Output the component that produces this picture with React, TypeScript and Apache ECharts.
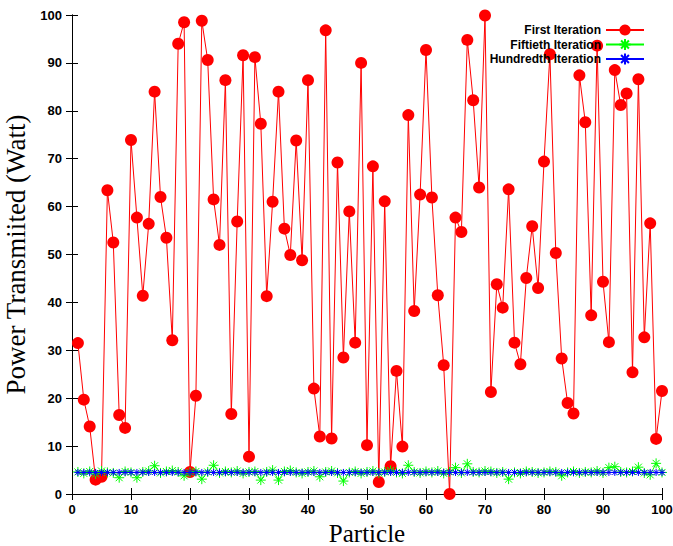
import React, { useEffect, useRef } from "react";
import * as echarts from "echarts";

const PARTICLES = [
  1, 2, 3, 4, 5, 6, 7, 8, 9, 10, 11, 12, 13, 14, 15, 16, 17, 18, 19, 20,
  21, 22, 23, 24, 25, 26, 27, 28, 29, 30, 31, 32, 33, 34, 35, 36, 37, 38, 39, 40,
  41, 42, 43, 44, 45, 46, 47, 48, 49, 50, 51, 52, 53, 54, 55, 56, 57, 58, 59, 60,
  61, 62, 63, 64, 65, 66, 67, 68, 69, 70, 71, 72, 73, 74, 75, 76, 77, 78, 79, 80,
  81, 82, 83, 84, 85, 86, 87, 88, 89, 90, 91, 92, 93, 94, 95, 96, 97, 98, 99, 100,
];

const FIRST = [
  31.5, 19.7, 14.1, 3.0, 3.6, 63.4, 52.5, 16.5, 13.8, 73.9,
  57.7, 41.4, 56.4, 84.0, 62.0, 53.5, 32.1, 94.0, 98.5, 4.6,
  20.5, 98.8, 90.6, 61.5, 52.0, 86.4, 16.7, 56.9, 91.6, 7.8,
  91.2, 77.3, 41.3, 61.0, 84.0, 55.4, 49.9, 73.8, 48.8, 86.4,
  22.0, 12.0, 96.8, 11.6, 69.2, 28.5, 59.0, 31.6, 90.0, 10.2,
  68.4, 2.5, 61.1, 5.8, 25.7, 9.9, 79.1, 38.2, 62.5, 92.7,
  61.9, 41.5, 26.9, 0.0, 57.7, 54.7, 94.8, 82.2, 64.0, 99.9,
  21.3, 43.8, 38.9, 63.6, 31.6, 27.1, 45.1, 55.9, 43.0, 69.4,
  91.8, 50.3, 28.3, 19.0, 16.8, 87.4, 77.6, 37.3, 93.6, 44.3,
  31.7, 88.5, 81.2, 83.6, 25.4, 86.6, 32.7, 56.5, 11.5, 21.5,
];

const FIFTIETH = [
  4.6, 4.3, 4.7, 4.2, 4.8, 4.5, 4.4, 3.4, 4.7, 4.5,
  3.4, 4.6, 4.8, 5.9, 4.4, 4.7, 4.9, 4.6, 3.8, 4.5,
  4.7, 3.1, 4.6, 6.0, 4.4, 4.7, 4.5, 4.8, 4.3, 4.6,
  4.7, 2.9, 4.6, 5.0, 2.9, 4.7, 4.9, 4.5, 4.3, 4.6,
  4.8, 3.6, 4.6, 4.8, 4.4, 2.7, 4.5, 4.7, 4.3, 4.6,
  4.8, 4.4, 4.6, 4.9, 4.5, 4.3, 6.0, 4.6, 4.4, 4.7,
  4.5, 4.8, 4.3, 4.6, 5.5, 4.4, 6.3, 4.6, 4.5, 4.8,
  4.7, 4.4, 4.6, 3.1, 4.5, 4.3, 4.7, 4.6, 4.4, 4.5,
  4.7, 4.6, 3.8, 4.5, 4.7, 4.4, 4.6, 4.5, 4.8, 4.4,
  5.5, 5.7, 4.6, 4.5, 4.7, 5.6, 4.4, 4.0, 6.4, 4.5,
];

const HUNDREDTH = [
  4.5, 4.5, 4.5, 4.5, 4.5, 4.5, 4.5, 4.5, 4.5, 4.5,
  4.5, 4.5, 4.5, 4.5, 4.5, 4.5, 4.5, 4.5, 4.5, 4.5,
  4.5, 4.5, 4.5, 4.5, 4.5, 4.5, 4.5, 4.5, 4.5, 4.5,
  4.5, 4.5, 4.5, 4.5, 4.5, 4.5, 4.5, 4.5, 4.5, 4.5,
  4.5, 4.5, 4.5, 4.5, 4.5, 4.5, 4.5, 4.5, 4.5, 4.5,
  4.5, 4.5, 4.5, 4.5, 4.5, 4.5, 4.5, 4.5, 4.5, 4.5,
  4.5, 4.5, 4.5, 4.5, 4.5, 4.5, 4.5, 4.5, 4.5, 4.5,
  4.5, 4.5, 4.5, 4.5, 4.5, 4.5, 4.5, 4.5, 4.5, 4.5,
  4.5, 4.5, 4.5, 4.5, 4.5, 4.5, 4.5, 4.5, 4.5, 4.5,
  4.5, 4.5, 4.5, 4.5, 4.5, 4.5, 4.5, 4.5, 4.5, 4.5,
];

const SERIES_NAMES = ["First Iteration", "Fiftieth Iteration", "Hundredth Iteration"];
const X_TITLE = "Particle";
const Y_TITLE = "Power Transmiited (Watt)";

const ASTERISK = "path://M0,10L20,10M10,0L10,20M3,3L17,17M17,3L3,17";

export default function App() {
  const ref = useRef<HTMLDivElement>(null);
  useEffect(() => {
    if (!ref.current) return;
    const chart = echarts.init(ref.current, null, { renderer: "svg" });
    const pair = (vals: number[]) => PARTICLES.map((p, i) => [p, vals[i]]);
    const tickLabel = {
      fontFamily: "Liberation Sans",
      fontWeight: "bold" as const,
      fontSize: 13,
      color: "#000",
    };
    const axisLine = { show: true, lineStyle: { color: "#000", width: 1 } };
    const axisTick = { show: true, inside: true, length: 6, lineStyle: { color: "#000", width: 1 } };
    chart.setOption({
      animation: false,
      backgroundColor: "#fff",
      grid: { left: 72, right: 11, top: 15, bottom: 52, outerBoundsMode: "none", containLabel: false },
      legend: {
        orient: "vertical",
        right: 28,
        top: 23,
        align: "right",
        padding: 0,
        itemWidth: 38,
        itemHeight: 14,
        itemGap: 0.5,
        textStyle: {
          fontFamily: "Liberation Sans",
          fontWeight: "bold",
          fontSize: 12,
          lineHeight: 14,
          color: "#000",
        },
        data: SERIES_NAMES,
      },
      xAxis: [
        {
          type: "value",
          min: 0,
          max: 100,
          interval: 10,
          name: X_TITLE,
          nameLocation: "middle",
          nameGap: 17,
          nameTextStyle: { fontFamily: "Liberation Serif", fontSize: 25, color: "#000" },
          axisLine,
          axisTick,
          splitLine: { show: false },
          axisLabel: { ...tickLabel, margin: 9 },
        },
        {
          type: "value",
          position: "top",
          min: 0,
          max: 100,
          interval: 10,
          axisLine,
          axisTick,
          splitLine: { show: false },
          axisLabel: { show: false },
        },
      ],
      yAxis: [
        {
          type: "value",
          min: 0,
          max: 100,
          interval: 10,
          name: Y_TITLE,
          nameLocation: "middle",
          nameGap: 33,
          nameRotate: 90,
          nameTextStyle: { fontFamily: "Liberation Serif", fontSize: 27, color: "#000" },
          axisLine,
          axisTick,
          splitLine: { show: false },
          axisLabel: { ...tickLabel, margin: 10 },
        },
        {
          type: "value",
          position: "right",
          min: 0,
          max: 100,
          interval: 10,
          axisLine,
          axisTick,
          splitLine: { show: false },
          axisLabel: { show: false },
        },
      ],
      series: [
        {
          name: SERIES_NAMES[0],
          type: "line",
          data: pair(FIRST),
          symbol: "circle",
          symbolSize: 12,
          clip: false,
          itemStyle: { color: "#ff0000" },
          lineStyle: { color: "#ff0000", width: 1 },
          z: 2,
        },
        {
          name: SERIES_NAMES[1],
          type: "line",
          data: pair(FIFTIETH),
          symbol: ASTERISK,
          symbolSize: 10,
          clip: false,
          itemStyle: { color: "#00ff00", borderColor: "#00ff00", borderWidth: 1 },
          lineStyle: { color: "#00ff00", width: 1 },
          z: 3,
        },
        {
          name: SERIES_NAMES[2],
          type: "line",
          data: pair(HUNDREDTH),
          symbol: ASTERISK,
          symbolSize: 7,
          clip: false,
          itemStyle: { color: "#0000ff", borderColor: "#0000ff", borderWidth: 1 },
          lineStyle: { color: "#0000ff", width: 1 },
          z: 4,
        },
      ],
    });
    return () => chart.dispose();
  }, []);
  return (
    <div
      ref={ref}
      style={{ position: "absolute", left: 0, top: 0, width: 673, height: 546, background: "#fff" }}
    />
  );
}
